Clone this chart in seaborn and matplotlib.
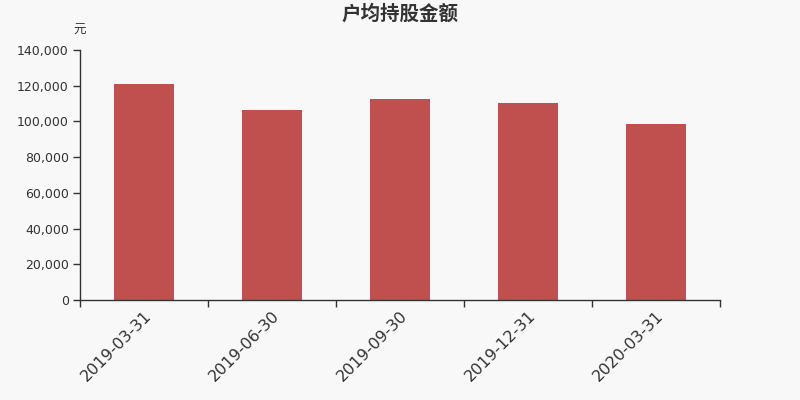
import matplotlib
matplotlib.use("Agg")
import matplotlib.pyplot as plt
import seaborn as sns
import pandas as pd
from matplotlib.ticker import FuncFormatter, FixedLocator

dates = ["2019-03-31", "2019-06-30", "2019-09-30", "2019-12-31", "2020-03-31"]
values = [120800, 106500, 112700, 110100, 98700]
title = "户均持股金额"
unit = "元"

sns.set_theme(style="white")
plt.rcParams['font.family'] = ['Noto Sans CJK SC', 'DejaVu Sans']

bg = "#f8f8f8"
fig = plt.figure(figsize=(8, 4), dpi=100, facecolor=bg)
ax = fig.add_axes([0.1, 0.25, 0.8, 0.625], facecolor=bg)

df = pd.DataFrame({"date": dates, "value": values})
sns.barplot(data=df, x="date", y="value", color="#c0504d", saturation=1,
            width=0.47, ax=ax, edgecolor="none")

ax.set_xlim(-0.5, len(dates) - 0.5)
ax.set_ylim(0, 140000)
ax.set_yticks(range(0, 140001, 20000))
ax.yaxis.set_major_formatter(FuncFormatter(lambda v, p: f"{int(v):,}"))
ax.set_xlabel("")
ax.set_ylabel("")

for s in ["top", "right"]:
    ax.spines[s].set_visible(False)
for s in ["left", "bottom"]:
    ax.spines[s].set_color("#333333")
    ax.spines[s].set_linewidth(1)

ax.tick_params(axis="y", which="major", length=5, width=1, color="#333333",
               labelsize=9, labelcolor="#333333", pad=3, left=True)
ax.tick_params(axis="x", which="major", length=0, labelsize=11.5,
               labelcolor="#333333", pad=6)
ax.xaxis.set_minor_locator(FixedLocator([i - 0.5 for i in range(len(dates) + 1)]))
ax.tick_params(axis="x", which="minor", length=5, width=1, color="#333333", bottom=True)
for lab in ax.get_xticklabels():
    lab.set_rotation(45)
    lab.set_ha("right")
    lab.set_rotation_mode("anchor")
    lab.set_fontfamily(['DejaVu Sans'])
for lab in ax.get_yticklabels():
    lab.set_fontfamily(['DejaVu Sans'])

fig.text(0.5, 0.965, title, ha="center", va="center", fontsize=14,
         fontweight="bold", color="#333333")
fig.text(0.1, 0.925, unit, ha="center", va="center", fontsize=9, color="#333333")

fig.savefig("out.png", dpi=100, facecolor=bg)
